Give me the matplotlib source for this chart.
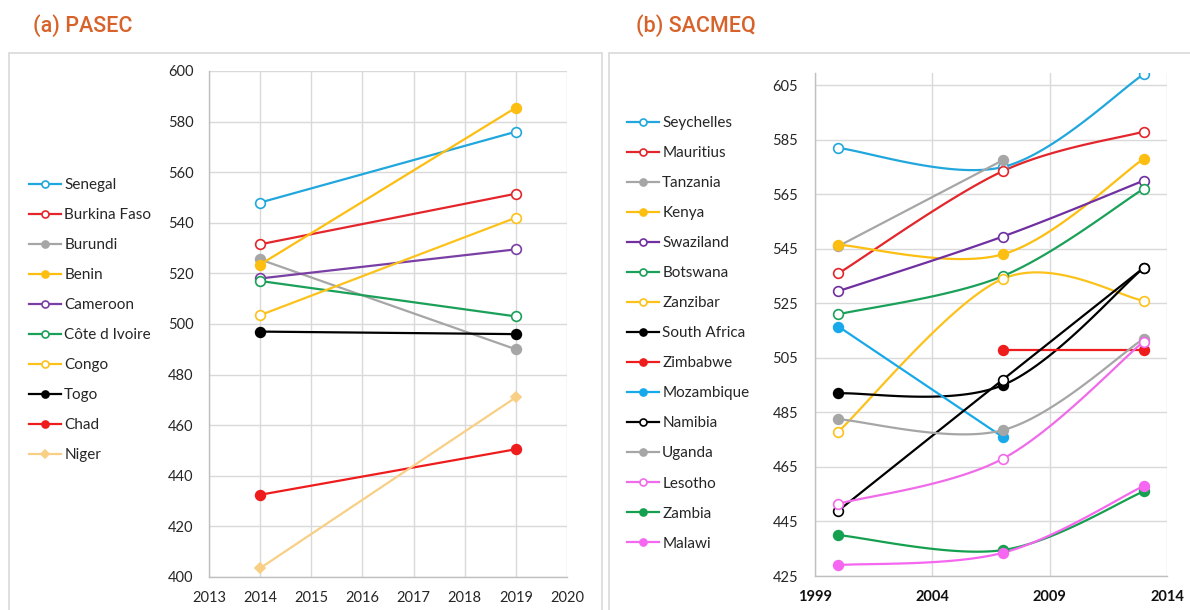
import matplotlib
matplotlib.use("Agg")
import matplotlib.pyplot as plt
from matplotlib.patches import Rectangle
import numpy as np

# ---------------- data ----------------
pasec_years = [2014, 2019]
pasec_countries = ["Senegal", "Burkina Faso", "Burundi", "Benin", "Cameroon",
                   "Côte d Ivoire", "Congo", "Togo", "Chad", "Niger"]
pasec_values = {
    "Senegal":       [548, 576],
    "Burkina Faso":  [531.5, 551.5],
    "Burundi":       [525.5, 490],
    "Benin":         [523.5, 585.5],
    "Cameroon":      [518, 529.5],
    "Côte d Ivoire": [517, 503],
    "Congo":         [503.5, 542],
    "Togo":          [497, 496],
    "Chad":          [432.5, 450.5],
    "Niger":         [403.5, 471],
}
pasec_xticks = [2013, 2014, 2015, 2016, 2017, 2018, 2019, 2020]
pasec_yticks = [400, 420, 440, 460, 480, 500, 520, 540, 560, 580, 600]

sacmeq_countries = ["Seychelles", "Mauritius", "Tanzania", "Kenya", "Swaziland",
                    "Botswana", "Zanzibar", "South Africa", "Zimbabwe", "Mozambique",
                    "Namibia", "Uganda", "Lesotho", "Zambia", "Malawi"]
sacmeq_years = {
    "Seychelles":   [2000, 2007, 2013],
    "Mauritius":    [2000, 2007, 2013],
    "Tanzania":     [2000, 2007],
    "Kenya":        [2000, 2007, 2013],
    "Swaziland":    [2000, 2007, 2013],
    "Botswana":     [2000, 2007, 2013],
    "Zanzibar":     [2000, 2007, 2013],
    "South Africa": [2000, 2007, 2013],
    "Zimbabwe":     [2007, 2013],
    "Mozambique":   [2000, 2007],
    "Namibia":      [2000, 2007, 2013],
    "Uganda":       [2000, 2007, 2013],
    "Lesotho":      [2000, 2007, 2013],
    "Zambia":       [2000, 2007, 2013],
    "Malawi":       [2000, 2007, 2013],
}
sacmeq_values = {
    "Seychelles":   [582, 575, 609],
    "Mauritius":    [536, 573.5, 588],
    "Tanzania":     [546, 577.5],
    "Kenya":        [546.5, 543, 578],
    "Swaziland":    [529.5, 549.5, 570],
    "Botswana":     [521, 535, 567],
    "Zanzibar":     [478, 534, 526],
    "South Africa": [492, 495, 538],
    "Zimbabwe":     [508, 508],
    "Mozambique":   [516.5, 476],
    "Namibia":      [449, 497, 538],
    "Uganda":       [482.5, 478.5, 512],
    "Lesotho":      [451.5, 468, 511],
    "Zambia":       [440, 434.5, 456],
    "Malawi":       [429, 433.5, 458],
}
sacmeq_xticks = [1999, 2004, 2009, 2014]
sacmeq_yticks = [425, 445, 465, 485, 505, 525, 545, 565, 585, 605]

# ---------------- styles ----------------
pasec_style = {
    "Senegal":       ("#21A7DD", "o", False),
    "Burkina Faso":  ("#E3262B", "o", False),
    "Burundi":       ("#A6A6A6", "o", True),
    "Benin":         ("#FDBE12", "o", True),
    "Cameroon":      ("#7A3FA5", "o", False),
    "Côte d Ivoire": ("#1BA05A", "o", False),
    "Congo":         ("#FCC21B", "o", False),
    "Togo":          ("#000000", "o", True),
    "Chad":          ("#EE1C1C", "o", True),
    "Niger":         ("#F8CF85", "D", True),
}
sacmeq_style = {
    "Seychelles":   ("#21A7DD", "o", False),
    "Mauritius":    ("#E3262B", "o", False),
    "Tanzania":     ("#A6A6A6", "o", True),
    "Kenya":        ("#FDBE12", "o", True),
    "Swaziland":    ("#7030A0", "o", False),
    "Botswana":     ("#1BA05A", "o", False),
    "Zanzibar":     ("#FCC21B", "o", False),
    "South Africa": ("#000000", "o", True),
    "Zimbabwe":     ("#EE1C1C", "o", True),
    "Mozambique":   ("#17A9EA", "o", True),
    "Namibia":      ("#000000", "o", False),
    "Uganda":       ("#A6A6A6", "o", True),
    "Lesotho":      ("#F06BEA", "o", False),
    "Zambia":       ("#15A050", "o", True),
    "Malawi":       ("#F567F0", "o", True),
}

FONT = ["Lato", "DejaVu Sans"]
plt.rcParams["font.family"] = FONT
TICK_COLOR = "#262626"
GRID = "#D9D9D9"
LW = 1.6


def smooth(xs, ys, n=40):
    """Excel-like smoothed line (cubic Bezier, Catmull-Rom control points)."""
    P = np.column_stack([xs, ys]).astype(float)
    if len(P) < 3:
        return P[:, 0], P[:, 1]
    out = [P[0]]
    m = len(P)
    t = np.linspace(0, 1, n)[1:, None]
    for i in range(m - 1):
        p0 = P[max(i - 1, 0)]
        p1 = P[i]
        p2 = P[i + 1]
        p3 = P[min(i + 2, m - 1)]
        c1 = p1 + (p2 - p0) / 6.0
        c2 = p2 - (p3 - p1) / 6.0
        seg = ((1 - t) ** 3) * p1 + 3 * ((1 - t) ** 2) * t * c1 + 3 * (1 - t) * t ** 2 * c2 + t ** 3 * p2
        out.extend(seg)
    out = np.array(out)
    return out[:, 0], out[:, 1]


fig = plt.figure(figsize=(11.9, 6.1), dpi=100)

# panel frames
fig.add_artist(Rectangle((8.5 / 1190, -0.02), (602 - 8.5) / 1190, (1 - 53 / 610) + 0.02,
                         transform=fig.transFigure, fill=False, edgecolor="#D9D9D9", lw=1.2))
fig.add_artist(Rectangle((609 / 1190, -0.02), 0.5, (1 - 53 / 610) + 0.02,
                         transform=fig.transFigure, fill=False, edgecolor="#D9D9D9", lw=1.2))

# titles
fig.text(33 / 1190, 1 - 26 / 610, "(a) PASEC", color="#D7632A", fontsize=15.5,
         family=["Roboto", "DejaVu Sans"], fontweight="medium", va="center", ha="left")
fig.text(636 / 1190, 1 - 26 / 610, "(b) SACMEQ", color="#D7632A", fontsize=15.5,
         family=["Roboto", "DejaVu Sans"], fontweight="medium", va="center", ha="left")


def style_axes(ax):
    ax.grid(True, color=GRID, lw=1.0)
    ax.set_axisbelow(True)
    for s in ["top", "right"]:
        ax.spines[s].set_visible(False)
    for s in ["left", "bottom"]:
        ax.spines[s].set_color("#BFBFBF")
        ax.spines[s].set_linewidth(1.0)
    ax.tick_params(length=0, colors=TICK_COLOR, labelsize=10.5)


LEG_KW = dict(loc="upper left", frameon=False, fontsize=11, labelspacing=1.05,
              handlelength=2.1, handletextpad=0.2, borderpad=0, borderaxespad=0,
              markerscale=0.72, labelcolor="#262626")

# ---------------- PASEC ----------------
axL = fig.add_axes([209 / 1190, 1 - 577 / 610, (567 - 209) / 1190, (577 - 71) / 610])
style_axes(axL)
for c in pasec_countries:
    col, mk, filled = pasec_style[c]
    axL.plot(pasec_years, pasec_values[c], color=col, lw=LW, marker=mk,
             markersize=7 if mk == "o" else 5.5,
             markerfacecolor=col if filled else "white", markeredgecolor=col,
             markeredgewidth=1.2, label=c, zorder=3)
axL.set_xlim(2013, 2020)
axL.set_ylim(400, 600)
axL.set_xticks(pasec_xticks)
axL.set_yticks(pasec_yticks)
axL.tick_params(axis="y", pad=11)
axL.tick_params(axis="x", pad=10)

hL, lL = axL.get_legend_handles_labels()
fig.legend(hL, lL, bbox_to_anchor=(29 / 1190, 1 - 178 / 610), **LEG_KW)

# ---------------- SACMEQ ----------------
axR = fig.add_axes([815 / 1190, 1 - 576 / 610, (1167 - 815) / 1190, (576 - 73) / 610])
style_axes(axR)
for c in sacmeq_countries:
    col, mk, filled = sacmeq_style[c]
    xs, ys = sacmeq_years[c], sacmeq_values[c]
    sx, sy = smooth(xs, ys)
    axR.plot(sx, sy, color=col, lw=LW, zorder=3)
    axR.plot(xs, ys, linestyle="none", marker=mk, markersize=7,
             markerfacecolor=col if filled else "white", markeredgecolor=col,
             markeredgewidth=1.2, zorder=4)
    axR.plot([], [], color=col, lw=LW, marker=mk, markersize=7,
             markerfacecolor=col if filled else "white", markeredgecolor=col,
             markeredgewidth=1.2, label=c)
axR.set_xlim(1999, 2014)
axR.set_ylim(425, 609.5)
axR.set_xticks(sacmeq_xticks)
axR.set_yticks(sacmeq_yticks)
axR.tick_params(axis="y", pad=12)
axR.tick_params(axis="x", pad=10)
for t in axR.get_xticklabels():
    t.set_fontweight("bold")
    t.set_color("#111111")

hR, lR = axR.get_legend_handles_labels()
fig.legend(hR, lR, bbox_to_anchor=(627 / 1190, 1 - 116 / 610), **LEG_KW)

fig.savefig("out.png", dpi=100)
